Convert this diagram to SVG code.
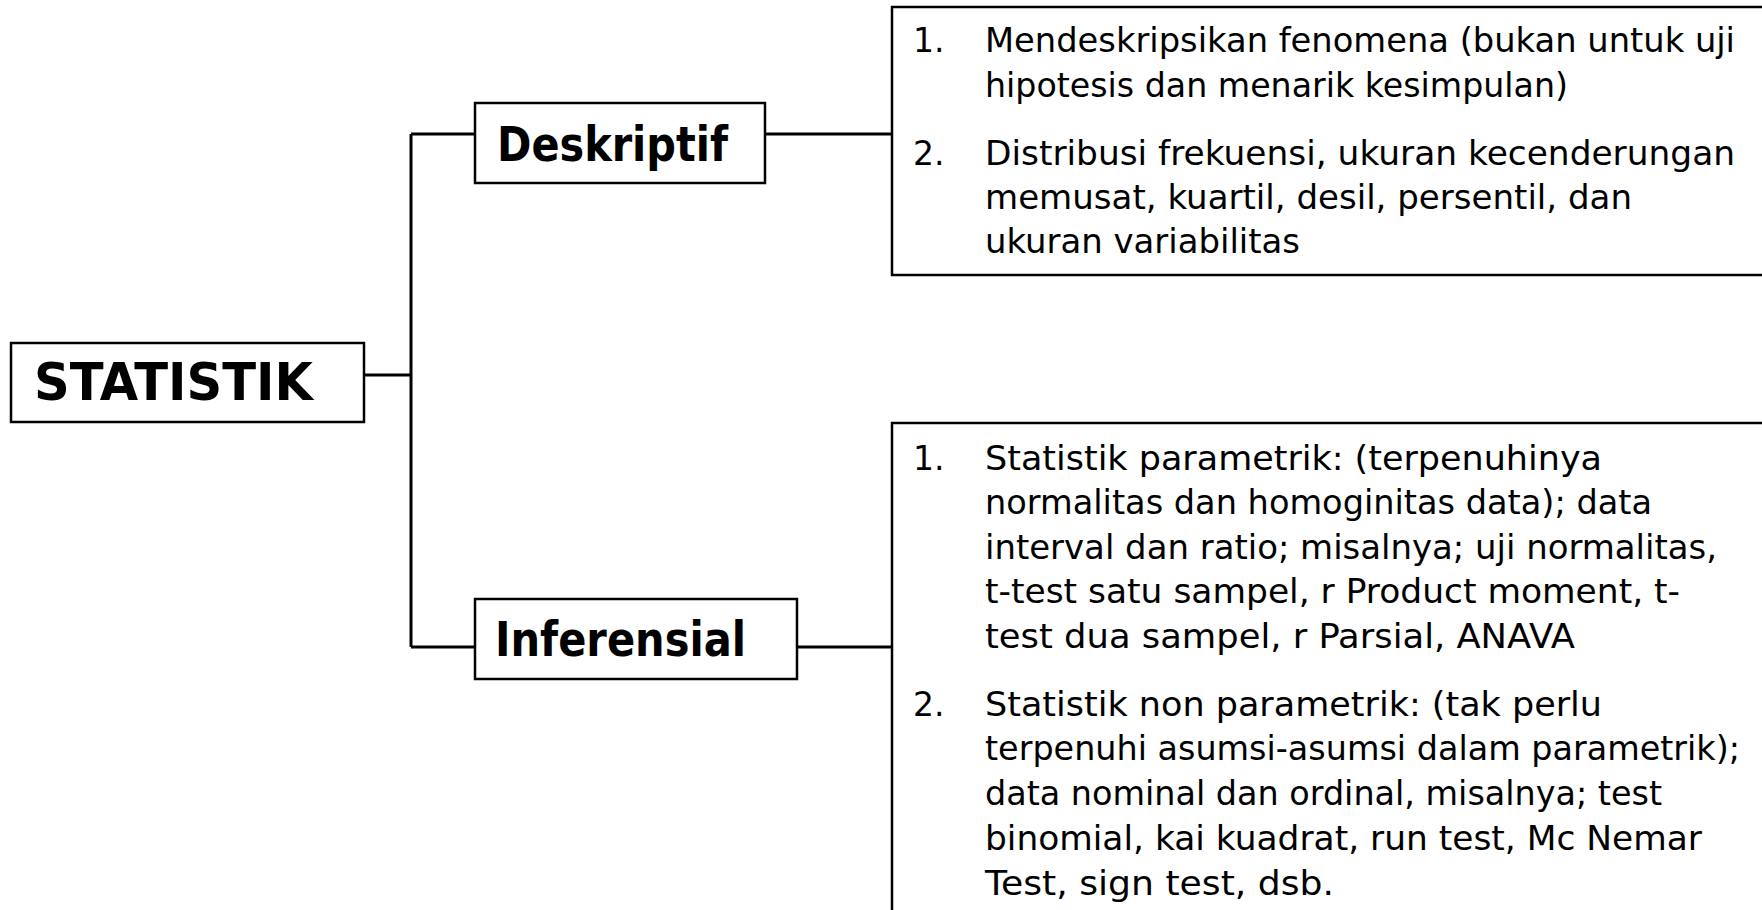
<svg xmlns="http://www.w3.org/2000/svg" width="1762" height="910" viewBox="0 0 1762 910">
<style>
.box{fill:#fff;stroke:#000;stroke-width:2.5}
.conn{fill:none;stroke:#000;stroke-width:3}
.hd{font-family:"DejaVu Sans","Liberation Sans",sans-serif;font-weight:bold;fill:#000}
.tx{font-family:"DejaVu Sans","Liberation Sans",sans-serif;font-size:33px;fill:#000}
</style>
<rect width="1762" height="910" fill="#fff"/>
<g id="connectors">
<path class="conn" d="M364 375H411M411 134V647M411 134H475M411 647H475M765 134H892M797 647H892"/>
</g>
<g id="statistik">
<rect class="box" x="11" y="343" width="353" height="79"/>
<text class="hd" x="34" y="400" font-size="51" textLength="279" lengthAdjust="spacingAndGlyphs">STATISTIK</text>
</g>
<g id="deskriptif">
<rect class="box" x="475" y="103" width="290" height="80"/>
<text class="hd" x="497" y="161" font-size="48" textLength="231" lengthAdjust="spacingAndGlyphs">Deskriptif</text>
</g>
<g id="inferensial">
<rect class="box" x="475" y="599" width="322" height="80"/>
<text class="hd" x="495" y="656" font-size="48" textLength="251" lengthAdjust="spacingAndGlyphs">Inferensial</text>
</g>
<g id="deskriptif-detail">
<rect class="box" x="892" y="7" width="900" height="268"/>
<text class="tx" x="913" y="52">1.</text>
<text class="tx" x="985" y="52" textLength="750" lengthAdjust="spacingAndGlyphs">Mendeskripsikan fenomena (bukan untuk uji</text>
<text class="tx" x="985" y="97" textLength="583" lengthAdjust="spacingAndGlyphs">hipotesis dan menarik kesimpulan)</text>
<text class="tx" x="913" y="165">2.</text>
<text class="tx" x="985" y="165" textLength="750" lengthAdjust="spacingAndGlyphs">Distribusi frekuensi, ukuran kecenderungan</text>
<text class="tx" x="985" y="209" textLength="647" lengthAdjust="spacingAndGlyphs">memusat, kuartil, desil, persentil, dan</text>
<text class="tx" x="985" y="253" textLength="315" lengthAdjust="spacingAndGlyphs">ukuran variabilitas</text>
</g>
<g id="inferensial-detail">
<rect class="box" x="892" y="423" width="900" height="530"/>
<text class="tx" x="913" y="470">1.</text>
<text class="tx" x="985" y="470" textLength="617" lengthAdjust="spacingAndGlyphs">Statistik parametrik: (terpenuhinya</text>
<text class="tx" x="985" y="514" textLength="667" lengthAdjust="spacingAndGlyphs">normalitas dan homoginitas data); data</text>
<text class="tx" x="985" y="559" textLength="732" lengthAdjust="spacingAndGlyphs">interval dan ratio; misalnya; uji normalitas,</text>
<text class="tx" x="985" y="603" textLength="695" lengthAdjust="spacingAndGlyphs">t-test satu sampel, r Product moment, t-</text>
<text class="tx" x="985" y="648" textLength="590" lengthAdjust="spacingAndGlyphs">test dua sampel, r Parsial, ANAVA</text>
<text class="tx" x="913" y="716">2.</text>
<text class="tx" x="985" y="716" textLength="617" lengthAdjust="spacingAndGlyphs">Statistik non parametrik: (tak perlu</text>
<text class="tx" x="985" y="760" textLength="755" lengthAdjust="spacingAndGlyphs">terpenuhi asumsi-asumsi dalam parametrik);</text>
<text class="tx" x="985" y="805" textLength="677" lengthAdjust="spacingAndGlyphs">data nominal dan ordinal, misalnya; test</text>
<text class="tx" x="985" y="850" textLength="717" lengthAdjust="spacingAndGlyphs">binomial, kai kuadrat, run test, Mc Nemar</text>
<text class="tx" x="985" y="895" textLength="349" lengthAdjust="spacingAndGlyphs">Test, sign test, dsb.</text>
</g>
</svg>
